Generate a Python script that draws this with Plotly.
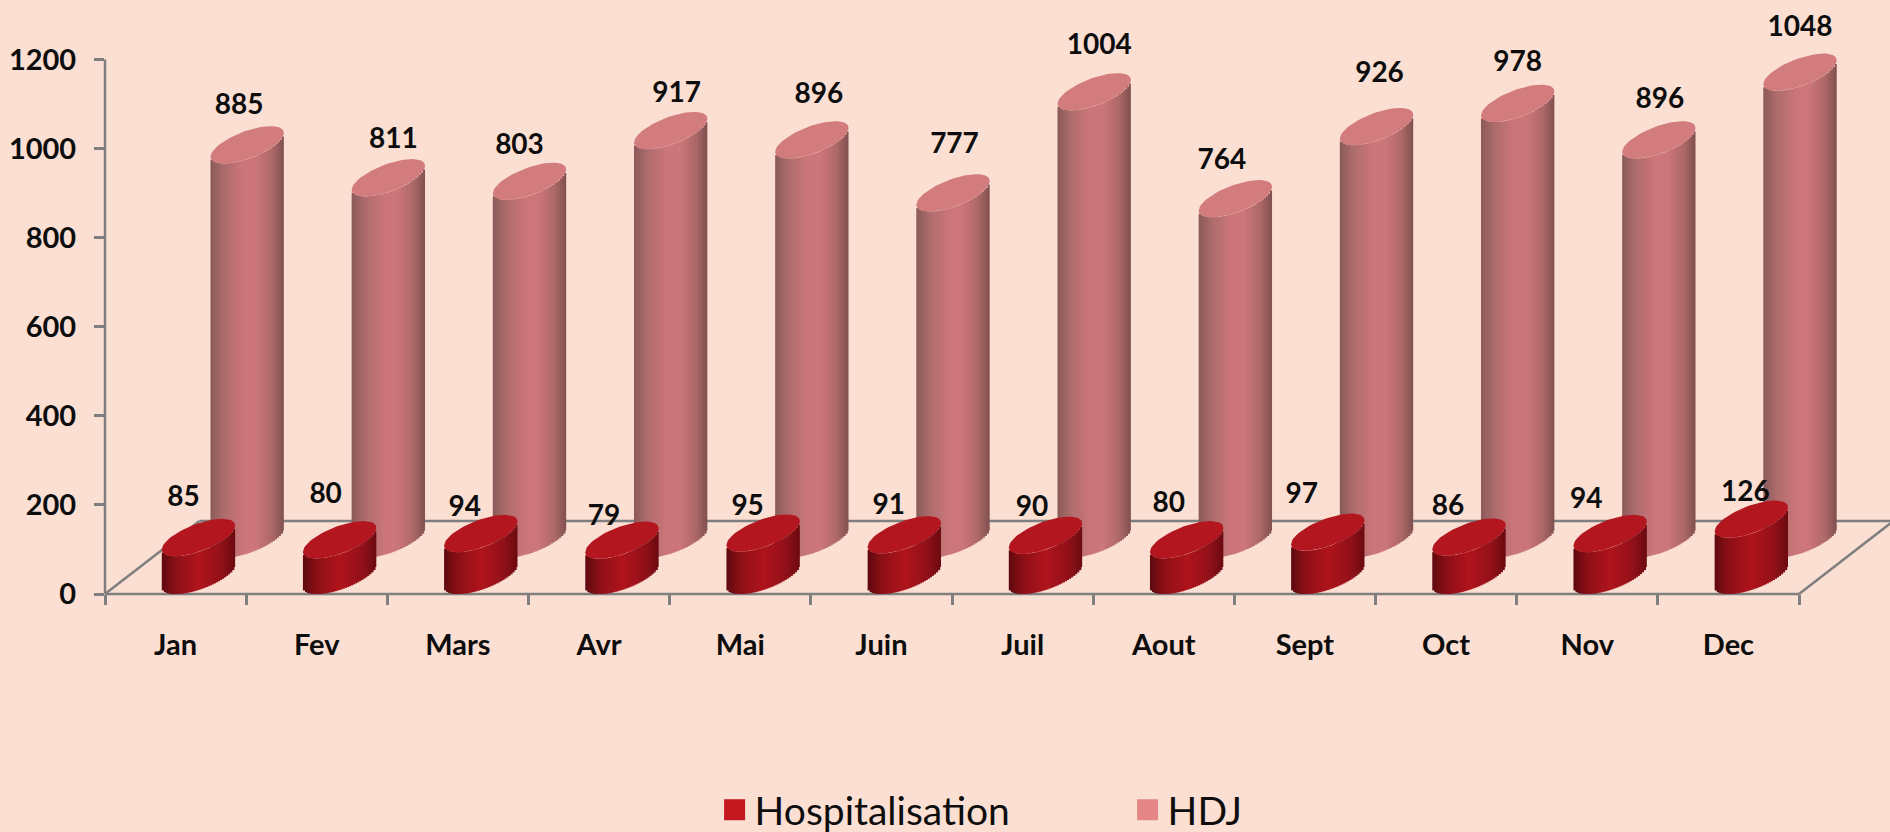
import plotly.graph_objects as go
import math

# ---- data ----
MONTHS = ["Jan", "Fev", "Mars", "Avr", "Mai", "Juin", "Juil", "Aout", "Sept", "Oct", "Nov", "Dec"]
HOSPITALISATION = [85, 80, 94, 79, 95, 91, 90, 80, 97, 86, 94, 126]
HDJ = [885, 811, 803, 917, 896, 777, 1004, 764, 926, 978, 896, 1048]
Y_TICKS = [0, 200, 400, 600, 800, 1000, 1200]

# ---- manual data-label offsets from each cap centre, in pixels (right, up) ----
HOSP_LABEL_DX = [-15, -14, -16, -18, -15.5, -15.6, -13.4, -18, -26, -21, -24, -6]
HOSP_LABEL_UP = [38.5, 43.5, 25, 22, 25.5, 27.5, 26.5, 34.5, 36.5, 29.5, 32.5, 25.5]
HDJ_LABEL_DX = [-8, 5, -10, 6, 7, 1.5, 5, -13.5, 3, 0, 1, 0]
HDJ_LABEL_UP = [37.5, 36.5, 34.5, 35.5, 43.5, 46.5, 44.5, 36.5, 51.5, 39.5, 38.5, 43.5]

# ---- layout geometry ----
W, H = 1890, 832
PX_LEFT, PX_FRONT_RIGHT, PX_TOP, PX_BOTTOM = 104.5, 1799.0, 59.5, 594.0
PX_PER_X = (PX_FRONT_RIGHT - PX_LEFT) / 12
PX_PER_Y = (PX_BOTTOM - PX_TOP) / 1200
X_MAX = (W - PX_LEFT) / PX_PER_X
Y_MAX = PX_BOTTOM / PX_PER_Y
DEPTH_PX = (94.5, 73.0)
ELL_A, ELL_P, ELL_Q = 36.7, 12.0, 14.3   # half width, tilt rise, minor component (px)
STRIPS = 36

BG = "#FBDFD2"
AXIS = "#7F7F7F"
TEXT = "#0D0D0D"
FONT = "Lato"

HOSP_GEOM = dict(x=0.662, base=(PX_BOTTOM - 575.4) / PX_PER_Y)
HDJ_GEOM = dict(x=1.007, base=(PX_BOTTOM - 539.0) / PX_PER_Y)

HOSP_STOPS = [(0, "#5E0A0E"), (0.2, "#8E1017"), (0.5, "#B0141C"), (0.8, "#93111A"), (1, "#6B0B10")]
HDJ_STOPS = [(0, "#8A5A5A"), (0.18, "#AD6C6C"), (0.45, "#CC767A"), (0.62, "#CC767A"), (0.85, "#AC6767"), (1, "#7F5050")]
HOSP_CAP = "#B3161F"
HDJ_CAP = "#D37C7E"


def grad(stops, t):
    for (t0, c0), (t1, c1) in zip(stops, stops[1:]):
        if t <= t1:
            f = (t - t0) / (t1 - t0)
            a = [int(c0[i:i + 2], 16) for i in (1, 3, 5)]
            b = [int(c1[i:i + 2], 16) for i in (1, 3, 5)]
            return "rgb(%d,%d,%d)" % tuple(round(u + (v - u) * f) for u, v in zip(a, b))
    return stops[-1][1]


def body_traces(values, geom, stops):
    """Cylinder wall: vertical bars of each value, in thin shaded strips."""
    out = []
    w = 2 * ELL_A / STRIPS
    for k in range(STRIPS):
        left = -ELL_A + k * w
        u = (left + w / 2) / ELL_A
        arc = ELL_P * u - ELL_Q * math.sqrt(1 - u * u)
        width = (w * 1.6 if k < STRIPS - 1 else w) / PX_PER_X
        out.append(go.Bar(
            x=[i + geom["x"] + left / PX_PER_X for i in range(len(values))],
            y=values,
            base=[geom["base"] + arc / PX_PER_Y] * len(values),
            width=width, offset=0,
            marker=dict(color=grad(stops, (k + 0.5) / STRIPS), line=dict(width=0)),
            showlegend=False, hoverinfo="skip", cliponaxis=False,
        ))
    return out


def cap_trace(values, geom, color):
    xs, ys = [], []
    for i, v in enumerate(values):
        for n in range(73):
            t = 2 * math.pi * n / 72
            xs.append(i + geom["x"] + ELL_A * math.cos(t) / PX_PER_X)
            ys.append(geom["base"] + v + (ELL_P * math.cos(t) + ELL_Q * math.sin(t)) / PX_PER_Y)
        xs.append(None)
        ys.append(None)
    return go.Scatter(x=xs, y=ys, mode="lines", fill="toself", fillcolor=color,
                      line=dict(width=0, color=color), showlegend=False,
                      hoverinfo="skip", cliponaxis=False)


def label_trace(values, geom, dx, up):
    return go.Scatter(
        x=[i + geom["x"] + d / PX_PER_X for i, d in enumerate(dx)],
        y=[geom["base"] + v + u / PX_PER_Y for v, u in zip(values, up)],
        mode="text", text=[str(v) for v in values], textposition="middle center",
        textfont=dict(family=FONT, size=28, color=TEXT, weight=700),
        showlegend=False, hoverinfo="skip", cliponaxis=False,
    )


def legend_trace(name, color):
    return go.Scatter(x=[None], y=[None], mode="markers", name=name,
                      marker=dict(symbol="square", size=16, color=color, line=dict(width=5, color=color)))


traces = []
traces += body_traces(HDJ, HDJ_GEOM, HDJ_STOPS)
traces += body_traces(HOSPITALISATION, HOSP_GEOM, HOSP_STOPS)
traces.append(cap_trace(HDJ, HDJ_GEOM, HDJ_CAP))
traces.append(cap_trace(HOSPITALISATION, HOSP_GEOM, HOSP_CAP))
traces.append(label_trace(HDJ, HDJ_GEOM, HDJ_LABEL_DX, HDJ_LABEL_UP))
traces.append(label_trace(HOSPITALISATION, HOSP_GEOM, HOSP_LABEL_DX, HOSP_LABEL_UP))
traces.append(legend_trace("Hospitalisation", "#C4171F"))
traces.append(legend_trace("HDJ", "#E48686"))


# axis lines and floor outline, behind the cylinders
def paper_x(px):
    return (px - PX_LEFT) / (W - PX_LEFT)


def paper_y(px):
    return (PX_BOTTOM - px) / PX_BOTTOM


BACK_Y = PX_BOTTOM - DEPTH_PX[1]
FLOOR = [
    (PX_LEFT, PX_TOP, PX_LEFT, PX_BOTTOM),
    (PX_LEFT, PX_BOTTOM, PX_FRONT_RIGHT, PX_BOTTOM),
    (PX_LEFT, PX_BOTTOM, PX_LEFT + DEPTH_PX[0], BACK_Y),
    (PX_LEFT + DEPTH_PX[0], BACK_Y, PX_FRONT_RIGHT + DEPTH_PX[0], BACK_Y),
    (PX_FRONT_RIGHT, PX_BOTTOM, PX_FRONT_RIGHT + DEPTH_PX[0], BACK_Y),
]
shapes = [dict(type="line", xref="paper", yref="paper", layer="below",
               x0=paper_x(a), y0=paper_y(b), x1=paper_x(c), y1=paper_y(d),
               line=dict(color=AXIS, width=2.5)) for a, b, c, d in FLOOR]

fig = go.Figure(traces)
fig.update_layout(
    width=W, height=H, autosize=False,
    paper_bgcolor=BG, plot_bgcolor="rgba(0,0,0,0)",
    margin=dict(l=PX_LEFT, r=0, t=0, b=H - PX_BOTTOM, pad=0),
    barmode="overlay", shapes=shapes, showlegend=True,
    legend=dict(orientation="h", xref="container", yref="container",
                x=714.6 / W, xanchor="left", y=(H - 778) / H, yanchor="top",
                font=dict(family=FONT, size=39, color=TEXT), bgcolor="rgba(0,0,0,0)",
                entrywidth=368, entrywidthmode="pixels", itemclick=False, itemdoubleclick=False),
    xaxis=dict(
        range=[0, X_MAX], showgrid=False, zeroline=False, showline=False,
        tickmode="array", tickvals=[i + 0.5 for i in range(12)], ticktext=MONTHS,
        ticks="outside", ticklen=0, tickcolor=AXIS, ticklabelstandoff=25,
        tickfont=dict(family=FONT, size=29, color=TEXT, weight=700),
        minor=dict(tickmode="array", tickvals=list(range(13)), ticks="outside",
                   ticklen=10, tickwidth=2.5, tickcolor=AXIS, showgrid=False),
    ),
    yaxis=dict(
        range=[0, Y_MAX], showgrid=False, zeroline=False, showline=False,
        tickmode="array", tickvals=Y_TICKS, ticktext=[str(t) for t in Y_TICKS],
        ticks="outside", ticklen=10, tickwidth=2.5, tickcolor=AXIS, ticklabelstandoff=12,
        tickfont=dict(family=FONT, size=29, color=TEXT, weight=700),
    ),
)
fig.write_html("out.html", post_script="document.body.style.margin='0';document.body.style.overflow='hidden';",
               config={"displayModeBar": False})
